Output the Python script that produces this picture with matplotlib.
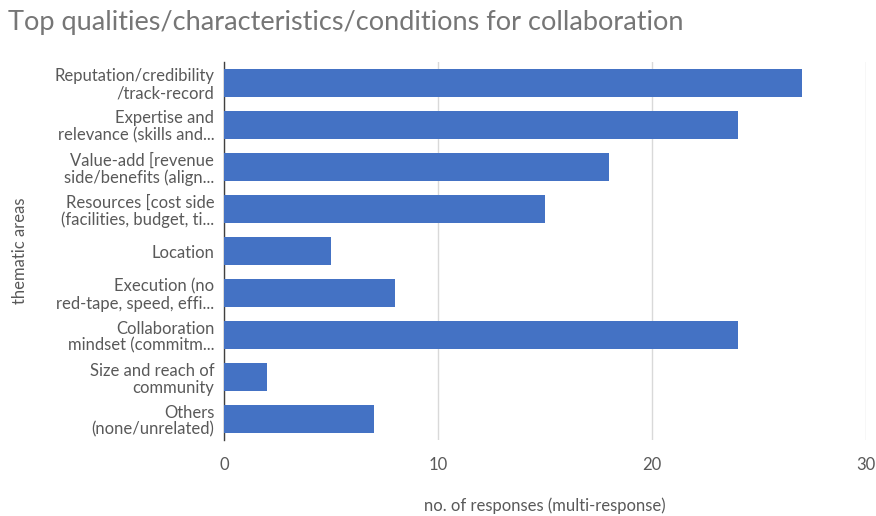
import matplotlib.pyplot as plt

plt.rcParams['font.family'] = ['Lato', 'DejaVu Sans']

# survey categories, top to bottom
categories = [
    "Reputation/credibility\n/track-record",
    "Expertise and\nrelevance (skills and...",
    "Value-add [revenue\nside/benefits (align...",
    "Resources [cost side\n(facilities, budget, ti...",
    "Location",
    "Execution (no\nred-tape, speed, effi...",
    "Collaboration\nmindset (commitm...",
    "Size and reach of\ncommunity",
    "Others\n(none/unrelated)",
]
responses = [27, 24, 18, 15, 5, 8, 24, 2, 7]
x_ticks = [0, 10, 20, 30]

bar_color = "#4472C4"
text_color = "#595959"

fig = plt.figure(figsize=(8.76, 5.16), dpi=100)
ax = fig.add_axes([0.2557, 0.147, 0.7329, 0.733])

pos = list(range(len(categories)))
ax.barh(pos, responses, height=0.65, color=bar_color, zorder=3)

ax.set_ylim(len(categories) - 0.5, -0.5)
ax.set_xlim(0, 30)
ax.set_yticks(pos)
ax.set_yticklabels(categories, fontsize=12, color=text_color,
                   linespacing=1.08)
ax.set_xticks(x_ticks)
ax.set_xticklabels([str(t) for t in x_ticks], fontsize=12, color=text_color)
ax.tick_params(axis='both', length=0)
ax.tick_params(axis='x', pad=12)
ax.tick_params(axis='y', pad=7)

ax.grid(axis='x', color="#d9d9d9", linewidth=1, zorder=0)
for side in ['top', 'right', 'bottom']:
    ax.spines[side].set_visible(False)
ax.spines['left'].set_color("#404040")
ax.spines['left'].set_linewidth(1)

ax.set_xlabel("no. of responses (multi-response)", fontsize=12,
              color=text_color, labelpad=18)
ax.set_ylabel("thematic areas", fontsize=12, color=text_color)
ax.yaxis.set_label_coords(-0.306, 0.5)

fig.text(0.009, 0.957, "Top qualities/characteristics/conditions for collaboration",
         fontsize=19.5, color="#767676", va='center', ha='left')

fig.savefig("out.png", dpi=100)
